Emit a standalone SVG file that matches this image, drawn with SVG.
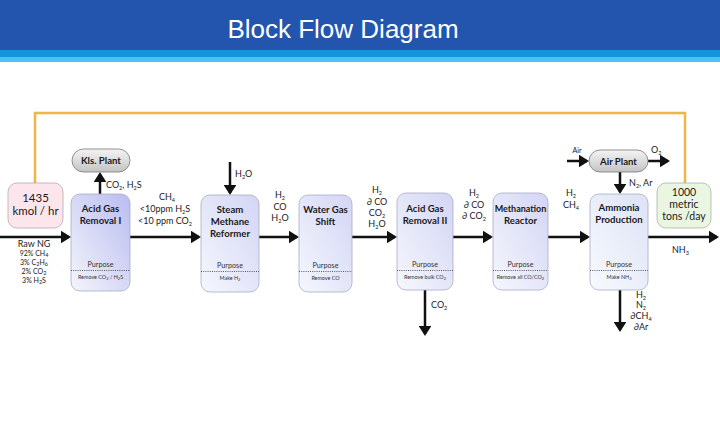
<svg xmlns="http://www.w3.org/2000/svg" width="720" height="432" viewBox="0 0 720 432">
<style>
.t{font-family:Lato,"Liberation Sans",sans-serif;fill:#1a1a1a;text-anchor:middle}
.st{text-anchor:start}
.bt{font-size:9.6px;font-weight:bold}
.pp{font-size:7.2px;fill:#333}
.pr{font-size:5.4px;fill:#333}
.fl{font-size:9px}
.sm{font-size:7px}
.sb{font-size:5.5px}
.box{stroke:#a9abc4;stroke-width:0.8}
.dot{stroke:#333;stroke-width:0.8;stroke-dasharray:1 1.2}
.ar{stroke:#111;stroke-width:2.5;fill:none;marker-end:url(#ah)}
</style>
<defs>
<marker id="ah" markerWidth="4" markerHeight="5" refX="3.2" refY="2.5" orient="auto" markerUnits="strokeWidth"><path d="M0,0 L4,2.5 L0,5 z" fill="#111"/></marker>
<linearGradient id="g1" x1="0" y1="1" x2="1" y2="0"><stop offset="0" stop-color="#f3f5fc"/><stop offset="1" stop-color="#b9bcf0"/></linearGradient>
<linearGradient id="g2" x1="0" y1="1" x2="1" y2="0"><stop offset="0" stop-color="#f5f7fd"/><stop offset="1" stop-color="#d3d5f5"/></linearGradient>
<linearGradient id="g3" x1="0" y1="1" x2="1" y2="0"><stop offset="0" stop-color="#f6fafe"/><stop offset="1" stop-color="#dde2f6"/></linearGradient>
<linearGradient id="gp" x1="0" y1="0" x2="0" y2="1"><stop offset="0" stop-color="#f4f4f4"/><stop offset="1" stop-color="#c4c4c4"/></linearGradient>
</defs>
<g id="header">
<rect x="0" y="0" width="720" height="50" fill="#2355af"/>
<rect x="0" y="50" width="720" height="7" fill="#1794dc"/>
<rect x="0" y="57" width="720" height="5" fill="#4cc2f0"/>
<text x="343" y="38" font-family="'Liberation Sans',Arial,sans-serif" font-size="26" fill="#fff" text-anchor="middle">Block Flow Diagram</text>
</g>
<g id="connectors">
<path d="M35,183 V113 H685 V183" fill="none" stroke="#f0b448" stroke-width="2.5"/>
<line class="ar" x1="0" y1="237" x2="69" y2="237"/>
<line class="ar" x1="130" y1="237" x2="199" y2="237"/>
<line class="ar" x1="259" y1="237" x2="297" y2="237"/>
<line class="ar" x1="352" y1="237" x2="395" y2="237"/>
<line class="ar" x1="453" y1="237" x2="491" y2="237"/>
<line class="ar" x1="548" y1="237" x2="588" y2="237"/>
<line class="ar" x1="648" y1="237" x2="717" y2="237"/>
<line class="ar" x1="100" y1="194" x2="100" y2="174"/>
<line class="ar" x1="230" y1="162" x2="230" y2="193"/>
<line class="ar" x1="425" y1="290" x2="425" y2="334"/>
<line class="ar" x1="567" y1="161" x2="587" y2="161"/>
<line class="ar" x1="648" y1="161" x2="668" y2="161"/>
<line class="ar" x1="620" y1="172" x2="620" y2="192"/>
<line class="ar" x1="620" y1="290" x2="620" y2="330"/>
</g>
<g id="labels">
<text class="t fl" x="34" y="247">Raw NG</text>
<text class="t sm" x="34" y="256">92% CH<tspan class="sb" dy="1.2">4</tspan></text>
<text class="t sm" x="34" y="265">3% C<tspan class="sb" dy="1.2">2</tspan><tspan dy="-1.2">H</tspan><tspan class="sb" dy="1.2">6</tspan></text>
<text class="t sm" x="34" y="274">2% CO<tspan class="sb" dy="1.2">2</tspan></text>
<text class="t sm" x="34" y="283">3% H<tspan class="sb" dy="1.2">2</tspan><tspan dy="-1.2">S</tspan></text>
<text class="t fl st" x="106" y="188">CO<tspan class="sb" dy="1.5">2</tspan><tspan dy="-1.5">, H</tspan><tspan class="sb" dy="1.5">2</tspan><tspan dy="-1.5">S</tspan></text>
<text class="t fl" x="167" y="200">CH<tspan class="sb" dy="1.5">4</tspan></text>
<text class="t fl" x="165" y="212">&lt;10ppm H<tspan class="sb" dy="1.5">2</tspan><tspan dy="-1.5">S</tspan></text>
<text class="t fl" x="165" y="224">&lt;10 ppm CO<tspan class="sb" dy="1.5">2</tspan></text>
<text class="t fl st" x="235" y="177">H<tspan class="sb" dy="1.5">2</tspan><tspan dy="-1.5">O</tspan></text>
<text class="t fl" x="280" y="198">H<tspan class="sb" dy="1.5">2</tspan></text>
<text class="t fl" x="280" y="210">CO</text>
<text class="t fl" x="280" y="221">H<tspan class="sb" dy="1.5">2</tspan><tspan dy="-1.5">O</tspan></text>
<text class="t fl" x="377" y="193">H<tspan class="sb" dy="1.5">2</tspan></text>
<text class="t fl" x="377" y="205">∂ CO</text>
<text class="t fl" x="377" y="216">CO<tspan class="sb" dy="1.5">2</tspan></text>
<text class="t fl" x="377" y="227">H<tspan class="sb" dy="1.5">2</tspan><tspan dy="-1.5">O</tspan></text>
<text class="t fl st" x="431" y="308">CO<tspan class="sb" dy="1.5">2</tspan></text>
<text class="t fl" x="474" y="196">H<tspan class="sb" dy="1.5">2</tspan></text>
<text class="t fl" x="474" y="208">∂ CO</text>
<text class="t fl" x="474" y="219">∂ CO<tspan class="sb" dy="1.5">2</tspan></text>
<text class="t fl" x="571" y="196">H<tspan class="sb" dy="1.5">2</tspan></text>
<text class="t fl" x="571" y="208">CH<tspan class="sb" dy="1.5">4</tspan></text>
<text class="t sm" x="577" y="153">Air</text>
<text class="t fl st" x="651" y="153">O<tspan class="sb" dy="1.5">2</tspan></text>
<text class="t fl st" x="629" y="186">N<tspan class="sb" dy="1.5">2</tspan><tspan dy="-1.5">, Ar</tspan></text>
<text class="t fl st" x="672" y="253">NH<tspan class="sb" dy="1.5">3</tspan></text>
<text class="t fl" x="641" y="298">H<tspan class="sb" dy="1.5">2</tspan></text>
<text class="t fl" x="641" y="308">N<tspan class="sb" dy="1.5">2</tspan></text>
<text class="t fl" x="641" y="319">∂CH<tspan class="sb" dy="1.5">4</tspan></text>
<text class="t fl" x="641" y="330">∂Ar</text>
</g>
<g id="feed">
<rect x="8" y="183" width="55" height="45" rx="9" fill="#fce6ec" stroke="#b5a9ae" stroke-width="0.8"/>
<text class="t" x="35.5" y="202" font-size="11.5">1435</text>
<text class="t" x="35.5" y="215" font-size="11.5">kmol / hr</text>
</g>
<g id="product">
<rect x="657" y="183" width="54" height="45" rx="9" fill="#eaf6e2" stroke="#a8b5a2" stroke-width="0.8"/>
<text class="t" x="684" y="196" font-size="10.5">1000</text>
<text class="t" x="684" y="208" font-size="10.5">metric</text>
<text class="t" x="684" y="220" font-size="10.5">tons /day</text>
</g>
<g id="kls-plant">
<rect x="72" y="149" width="58" height="23" rx="11.5" fill="url(#gp)" stroke="#777" stroke-width="0.8"/>
<text class="t bt" x="101" y="164">Kls. Plant</text>
</g>
<g id="air-plant">
<rect x="589" y="150" width="59" height="22" rx="11" fill="url(#gp)" stroke="#777" stroke-width="0.8"/>
<text class="t bt" x="618.5" y="165">Air Plant</text>
</g>
<g id="agr1">
<rect class="box" x="71" y="194" width="59" height="97" rx="9" fill="url(#g1)"/>
<text class="t bt" x="100.5" y="212">Acid Gas</text>
<text class="t bt" x="100.5" y="224">Removal I</text>
<text class="t pp" x="100.5" y="267">Purpose</text>
<line class="dot" x1="71" y1="270.5" x2="130" y2="270.5"/>
<text class="t pr" x="100.5" y="279">Remove CO<tspan dy="1" font-size="4">2</tspan><tspan dy="-1"> / H</tspan><tspan dy="1" font-size="4">2</tspan><tspan dy="-1">S</tspan></text>
</g>
<g id="smr">
<rect class="box" x="201" y="195" width="58" height="97" rx="9" fill="url(#g2)"/>
<text class="t bt" x="230" y="213">Steam</text>
<text class="t bt" x="230" y="225">Methane</text>
<text class="t bt" x="230" y="237">Reformer</text>
<text class="t pp" x="230" y="268">Purpose</text>
<line class="dot" x1="201" y1="271.5" x2="259" y2="271.5"/>
<text class="t pr" x="230" y="280">Make H<tspan dy="1" font-size="4">2</tspan></text>
</g>
<g id="wgs">
<rect class="box" x="299" y="195" width="53" height="97" rx="9" fill="url(#g2)"/>
<text class="t bt" x="325.5" y="213">Water Gas</text>
<text class="t bt" x="325.5" y="225">Shift</text>
<text class="t pp" x="325.5" y="268">Purpose</text>
<line class="dot" x1="299" y1="271.5" x2="352" y2="271.5"/>
<text class="t pr" x="325.5" y="280">Remove CO</text>
</g>
<g id="agr2">
<rect class="box" x="397" y="193" width="56" height="97" rx="9" fill="url(#g2)"/>
<text class="t bt" x="425" y="212">Acid Gas</text>
<text class="t bt" x="425" y="224">Removal II</text>
<text class="t pp" x="425" y="267">Purpose</text>
<line class="dot" x1="397" y1="270.5" x2="453" y2="270.5"/>
<text class="t pr" x="425" y="279">Remove bulk CO<tspan dy="1" font-size="4">2</tspan></text>
</g>
<g id="methanation">
<rect class="box" x="493" y="193" width="55" height="97" rx="9" fill="url(#g2)"/>
<text class="t bt" x="520.5" y="212" style="font-size:9px">Methanation</text>
<text class="t bt" x="520.5" y="224">Reactor</text>
<text class="t pp" x="520.5" y="267">Purpose</text>
<line class="dot" x1="493" y1="270.5" x2="548" y2="270.5"/>
<text class="t pr" x="520.5" y="279">Remove all CO/CO<tspan dy="1" font-size="4">2</tspan></text>
</g>
<g id="ammonia">
<rect class="box" x="590" y="194" width="58" height="96" rx="9" fill="url(#g3)"/>
<text class="t bt" x="619" y="211">Ammonia</text>
<text class="t bt" x="619" y="223">Production</text>
<text class="t pp" x="619" y="267">Purpose</text>
<line class="dot" x1="590" y1="270.5" x2="648" y2="270.5"/>
<text class="t pr" x="619" y="279">Make NH<tspan dy="1" font-size="4">3</tspan></text>
</g>
</svg>
